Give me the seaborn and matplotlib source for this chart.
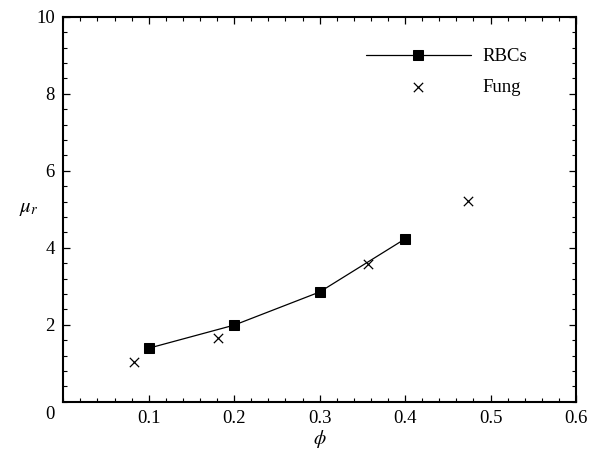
import matplotlib
matplotlib.use("Agg")
import matplotlib.pyplot as plt
import seaborn as sns
import pandas as pd
from matplotlib.ticker import MultipleLocator

# Relative viscosity versus volume fraction
rbc_phi = [0.1, 0.2, 0.3, 0.4]
rbc_mu = [1.39, 1.99, 2.85, 4.23]

fung_phi = [0.0825, 0.181, 0.357, 0.474]
fung_mu = [1.02, 1.65, 3.57, 5.21]

x_ticks = [0.1, 0.2, 0.3, 0.4, 0.5, 0.6]
y_ticks = [2, 4, 6, 8, 10]

sns.set_theme(style="white")
plt.rcParams["font.family"] = ["Liberation Serif", "DejaVu Serif"]
plt.rcParams["mathtext.fontset"] = "stix"

rbc = pd.DataFrame({"phi": rbc_phi, "mu": rbc_mu})
fung = pd.DataFrame({"phi": fung_phi, "mu": fung_mu})

fig = plt.figure(figsize=(5.89, 4.53), dpi=100)
ax = fig.add_axes([0.1075, 0.1132, 0.8705, 0.8499])

sns.lineplot(data=rbc, x="phi", y="mu", ax=ax, color="black", linewidth=0.9,
             marker="s", markersize=6.8, markeredgecolor="black",
             markerfacecolor="black", label="RBCs")
sns.scatterplot(data=fung, x="phi", y="mu", ax=ax, color="black", marker="x",
                s=45, linewidth=0.9, label="Fung")

ax.set_xlim(0, 0.6)
ax.set_ylim(0, 10)
ax.set_xticks(x_ticks)
ax.set_xticklabels([f"{t:.1f}" for t in x_ticks])
ax.set_yticks(y_ticks)
ax.set_yticklabels([str(t) for t in y_ticks])
ax.xaxis.set_minor_locator(MultipleLocator(0.02))
ax.yaxis.set_minor_locator(MultipleLocator(0.4))
ax.tick_params(which="both", direction="in", top=True, right=True,
               bottom=True, left=True, color="black", labelsize=13.5,
               labelcolor="black")
ax.tick_params(which="major", length=5, width=0.9, pad=6)
ax.tick_params(which="minor", length=3, width=0.8)

for sp in ax.spines.values():
    sp.set_visible(True)
    sp.set_color("black")
    sp.set_linewidth(1.5)

# shared origin label
ax.annotate("0", xy=(0, 0), xycoords="data", xytext=(-13, -13),
            textcoords="offset pixels", ha="center", va="center",
            fontsize=13.5, color="black")

ax.set_xlabel(r"$\phi$", fontsize=14, color="black", va="center")
ax.xaxis.set_label_coords(0.5, -0.096)
ax.set_ylabel(r"$\mu_r$", fontsize=15, rotation=0, color="black",
              ha="center", va="center")
ax.yaxis.set_label_coords(-0.068, 0.503)

leg = ax.legend(frameon=False, loc="upper right",
                bbox_to_anchor=(0.937, 0.962), fontsize=13.5,
                handlelength=5.6, handletextpad=0.6, labelspacing=0.7)
for t in leg.get_texts():
    t.set_color("black")

fig.savefig("out.png", dpi=100)
